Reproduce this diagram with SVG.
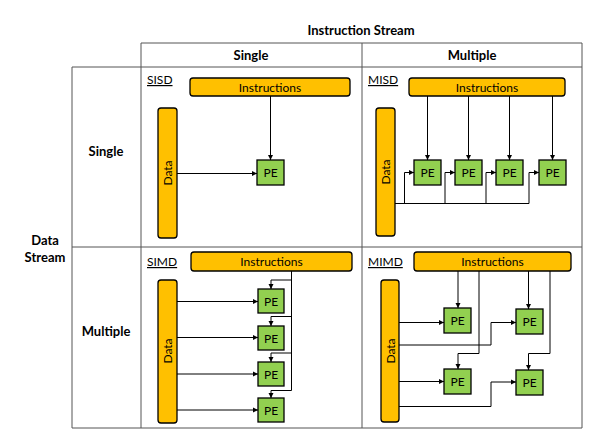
<svg xmlns="http://www.w3.org/2000/svg" width="598" height="437" viewBox="0 0 598 437">
  <defs>
    <marker id="arrow" markerUnits="userSpaceOnUse" markerWidth="6" markerHeight="6" refX="5" refY="3" orient="auto">
      <path d="M0,0.5 L5,3 L0,5.5 Z" fill="#000"/>
    </marker>
    <style>
      text { font-family: Lato, "Open Sans", "Liberation Sans", sans-serif; fill: #000; }
      .hdr { font-size: 13px; font-weight: bold; text-anchor: middle; }
      .lbl { font-size: 12px; text-anchor: middle; }
      .tag { font-size: 12px; text-decoration: underline; }
      .grid { stroke: #555; stroke-width: 1; fill: none; }
      .bar { fill: #FFC000; stroke: #000; stroke-width: 1.3; }
      .pe { fill: #92D050; stroke: #000; stroke-width: 1.3; }
      .wire { stroke: #000; stroke-width: 1; fill: none; }
      .arr { marker-end: url(#arrow); }
    </style>
  </defs>

  <!-- table grid -->
  <g id="grid" class="grid">
    <path d="M141,43 H582 V428 H72 V67 H582"/>
    <path d="M141,43 V428"/>
    <path d="M362,43 V428"/>
    <path d="M72,247 H582"/>
  </g>

  <!-- headers -->
  <g id="headers">
    <text class="hdr" x="361" y="35">Instruction Stream</text>
    <text class="hdr" x="251" y="60">Single</text>
    <text class="hdr" x="472" y="60">Multiple</text>
    <text class="hdr" x="106" y="156">Single</text>
    <text class="hdr" x="106" y="336">Multiple</text>
    <text class="hdr" x="45" y="245">Data</text>
    <text class="hdr" x="45" y="262">Stream</text>
  </g>

  <!-- SISD -->
  <g id="sisd">
    <text class="tag" x="147" y="84">SISD</text>
    <g id="sisd-instr"><rect class="bar" x="190" y="78" width="160" height="18" rx="3"/><text class="lbl" x="270" y="91.5">Instructions</text></g>
    <g id="sisd-data"><rect class="bar" x="158" y="108" width="19" height="130" rx="3"/><text class="lbl" transform="translate(171.5,173) rotate(-90)">Data</text></g>
    <g id="sisd-pe"><rect class="pe" x="257" y="160" width="27" height="25"/><text class="lbl" x="270.5" y="177">PE</text></g>
  </g>

  <!-- MISD -->
  <g id="misd">
    <text class="tag" x="368" y="84">MISD</text>
    <g id="misd-instr"><rect class="bar" x="409" y="78" width="156" height="18" rx="3"/><text class="lbl" x="487" y="91.5">Instructions</text></g>
    <g id="misd-data"><rect class="bar" x="376" y="108" width="19" height="128" rx="3"/><text class="lbl" transform="translate(389.5,172) rotate(-90)">Data</text></g>
    <g id="misd-pe1"><rect class="pe" x="414" y="160" width="27" height="25"/><text class="lbl" x="427.5" y="177">PE</text></g>
    <g id="misd-pe2"><rect class="pe" x="455" y="160" width="27" height="25"/><text class="lbl" x="468.5" y="177">PE</text></g>
    <g id="misd-pe3"><rect class="pe" x="496" y="160" width="27" height="25"/><text class="lbl" x="509.5" y="177">PE</text></g>
    <g id="misd-pe4"><rect class="pe" x="539" y="160" width="27" height="25"/><text class="lbl" x="552.5" y="177">PE</text></g>
  </g>

  <!-- SIMD -->
  <g id="simd">
    <text class="tag" x="147" y="266">SIMD</text>
    <g id="simd-instr"><rect class="bar" x="191" y="252" width="161" height="19" rx="3"/><text class="lbl" x="271.5" y="266">Instructions</text></g>
    <g id="simd-data"><rect class="bar" x="158" y="280" width="19" height="143" rx="3"/><text class="lbl" transform="translate(171.5,351) rotate(-90)">Data</text></g>
    <g id="simd-pe1"><rect class="pe" x="258" y="289" width="26" height="24"/><text class="lbl" x="271" y="305.5">PE</text></g>
    <g id="simd-pe2"><rect class="pe" x="258" y="326" width="26" height="24"/><text class="lbl" x="271" y="342.5">PE</text></g>
    <g id="simd-pe3"><rect class="pe" x="258" y="362" width="26" height="24"/><text class="lbl" x="271" y="378.5">PE</text></g>
    <g id="simd-pe4"><rect class="pe" x="258" y="398" width="26" height="24"/><text class="lbl" x="271" y="414.5">PE</text></g>
  </g>

  <!-- MIMD -->
  <g id="mimd">
    <text class="tag" x="368" y="266">MIMD</text>
    <g id="mimd-instr"><rect class="bar" x="414" y="252" width="157" height="19" rx="3"/><text class="lbl" x="492.5" y="266">Instructions</text></g>
    <g id="mimd-data"><rect class="bar" x="381" y="280" width="18" height="142" rx="3"/><text class="lbl" transform="translate(394.5,351) rotate(-90)">Data</text></g>
    <g id="mimd-pe1"><rect class="pe" x="444" y="308" width="27" height="25"/><text class="lbl" x="457.5" y="325">PE</text></g>
    <g id="mimd-pe2"><rect class="pe" x="516" y="309" width="27" height="25"/><text class="lbl" x="529.5" y="326">PE</text></g>
    <g id="mimd-pe3"><rect class="pe" x="444" y="369" width="27" height="25"/><text class="lbl" x="457.5" y="386">PE</text></g>
    <g id="mimd-pe4"><rect class="pe" x="516" y="370" width="27" height="25"/><text class="lbl" x="529.5" y="387">PE</text></g>
  </g>

  <!-- connectors -->
  <g id="connectors" class="wire">
    <!-- SISD -->
    <path class="arr" d="M270.5,96 V160"/>
    <path class="arr" d="M177,173.5 H257"/>

    <!-- MISD instruction feeds -->
    <path class="arr" d="M427.5,96 V160"/>
    <path class="arr" d="M468.5,96 V160"/>
    <path class="arr" d="M509.5,96 V160"/>
    <path class="arr" d="M552.5,96 V160"/>
    <!-- MISD data bus -->
    <path d="M395,203.5 H529"/>
    <path class="arr" d="M404.5,203.5 V172.5 H414"/>
    <path class="arr" d="M445,203.5 V172.5 H455"/>
    <path class="arr" d="M486,203.5 V172.5 H496"/>
    <path class="arr" d="M529,203.5 V172.5 H539"/>

    <!-- SIMD instruction trunk -->
    <path d="M291.5,271 V390.5"/>
    <path class="arr" d="M291.5,280 H271 V289"/>
    <path class="arr" d="M291.5,316.5 H271 V326"/>
    <path class="arr" d="M291.5,353 H271 V362"/>
    <path class="arr" d="M291.5,390.5 H271 V398"/>
    <!-- SIMD data -->
    <path class="arr" d="M177,301.5 H258"/>
    <path class="arr" d="M177,337.5 H258"/>
    <path class="arr" d="M177,374 H258"/>
    <path class="arr" d="M177,410 H258"/>

    <!-- MIMD instructions -->
    <path class="arr" d="M458,271 V308"/>
    <path class="arr" d="M479,271 V353.5 H458 V369"/>
    <path class="arr" d="M528.5,271 V309"/>
    <path class="arr" d="M550,271 V353.5 H528.5 V370"/>
    <!-- MIMD data -->
    <path class="arr" d="M399,322.5 H444"/>
    <path class="arr" d="M399,345 H491 V322.5 H516"/>
    <path class="arr" d="M399,381.5 H444"/>
    <path class="arr" d="M399,406.5 H491 V382 H516"/>
  </g>
</svg>
